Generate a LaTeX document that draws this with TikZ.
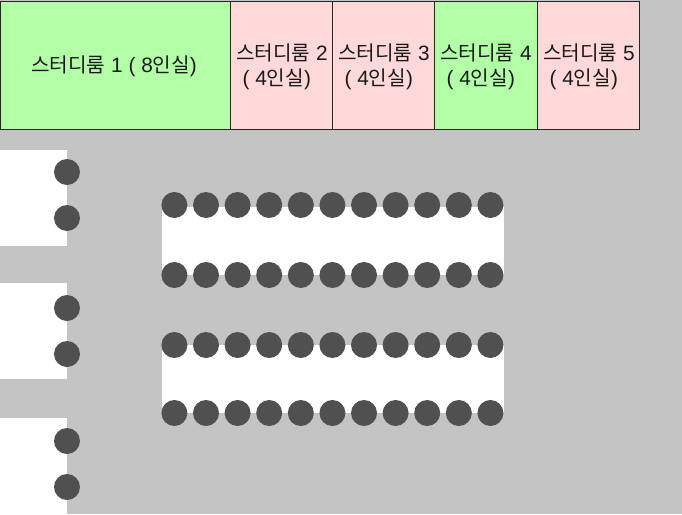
\documentclass[tikz,border=0pt]{standalone}
\usepackage{fontspec}
\setmainfont{Liberation Sans}
\newfontfamily\kr{Noto Sans CJK KR}[Scale=0.97]
\tikzset{
  roomgreen/.style={draw=black!85,line width=0.9pt,fill=roomgreenc,minimum height=127.5pt,inner sep=0pt,outer sep=0pt},
  roompink/.style={draw=black!85,line width=0.9pt,fill=roompinkc,minimum height=127.5pt,inner sep=0pt,outer sep=0pt},
  desk/.style={fill=white,draw=none,inner sep=0pt,outer sep=0pt},
  seat/.style={circle,fill=seatc,draw=none,minimum size=26pt,inner sep=0pt},
  lbl/.style={font=\fontsize{20.8}{25}\selectfont,text=black!90,inner sep=0pt,anchor=base west}
}
\definecolor{roomgreenc}{HTML}{B3FFA8}
\definecolor{roompinkc}{HTML}{FFD9D9}
\definecolor{seatc}{HTML}{505050}
\definecolor{floorc}{HTML}{C4C4C4}
\newcommand{\kname}{{\kr 스터디룸}}
\newcommand{\kfour}{( 4{\kr 인실})}
\begin{document}
\begin{tikzpicture}[x=1pt,y=-1pt]
\useasboundingbox (0,0) rectangle (682,514);
\fill[floorc] (0,0) rectangle (682,514);
% rooms
\node[roomgreen,minimum width=229.5pt,anchor=north west] (r1) at (0.5,1.5) {};
\node[roompink,minimum width=102.3pt,anchor=north west] (r2) at (230,1.5) {};
\node[roompink,minimum width=102.5pt,anchor=north west] (r3) at (332.3,1.5) {};
\node[roomgreen,minimum width=102.5pt,anchor=north west] (r4) at (434.8,1.5) {};
\node[roompink,minimum width=102pt,anchor=north west] (r5) at (537.4,1.5) {};
% labels
\node[lbl] (t1) at (31,72) {\kname{} 1 ( 8{\kr 인실})};
\node[lbl] (t2a) at (236,60) {\kname{} 2};
\node[lbl] (t2b) at (242.5,85.5) {\kfour};
\node[lbl] (t3a) at (338,60) {\kname{} 3};
\node[lbl] (t3b) at (344.5,85.5) {\kfour};
\node[lbl] (t4a) at (440,60) {\kname{} 4};
\node[lbl] (t4b) at (446.5,85.5) {\kfour};
\node[lbl] (t5a) at (543,60) {\kname{} 5};
\node[lbl] (t5b) at (549.5,85.5) {\kfour};
% desks
\node[desk,minimum width=67pt,minimum height=96pt,anchor=north west] (d1) at (0,150) {};
\node[desk,minimum width=67pt,minimum height=96pt,anchor=north west] (d2) at (0,283) {};
\node[desk,minimum width=67pt,minimum height=96pt,anchor=north west] (d3) at (0,418) {};
\node[desk,minimum width=341.5pt,minimum height=68pt,anchor=north west] (d4) at (162,207) {};
\node[desk,minimum width=341.5pt,minimum height=68pt,anchor=north west] (d5) at (162,345) {};
% seats
\foreach \n/\y in {a/172,b/218,c/308,d/354,e/441,f/487}
  \node[seat] (s\n) at (67,\y) {};
\foreach \n/\y in {g/205,h/275,k/345,m/413}
  \foreach \i in {0,...,10}
    \node[seat] (s\n\i) at ({174.4+31.6*\i},\y) {};
\end{tikzpicture}
\end{document}
